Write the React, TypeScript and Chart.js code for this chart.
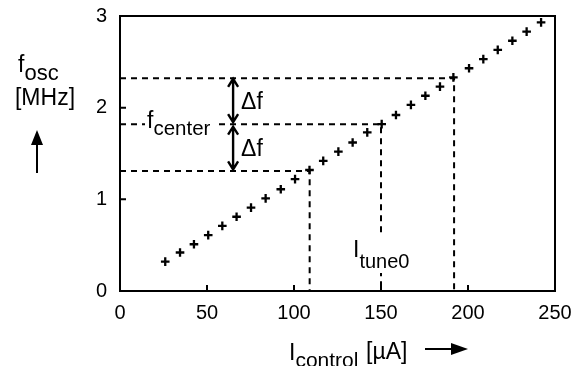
import React, { useEffect, useRef } from "react";
import { Chart, registerables } from "chart.js";

Chart.register(...registerables);

// Measured control current (µA) and oscillation frequency (MHz)
const currentUA = [26, 34.5, 42.5, 50.7, 58.8, 67, 75.3, 83.7, 92.4, 100.6, 108.9, 116.8, 125.5, 133.7, 142.1, 150.4, 158.6, 167.2, 175.5, 183.9, 191.6, 200.6, 208.8, 217.1, 225.5, 233.7, 242];
const freqMHz = [0.32, 0.42, 0.51, 0.61, 0.71, 0.81, 0.91, 1.01, 1.11, 1.22, 1.32, 1.42, 1.52, 1.62, 1.73, 1.82, 1.92, 2.03, 2.13, 2.23, 2.33, 2.43, 2.53, 2.63, 2.73, 2.83, 2.93];

const xTicks = [0, 50, 100, 150, 200, 250];
const yTicks = [0, 1, 2, 3];

// Guide lines: (f_center - Δf), f_center, (f_center + Δf)
const guideCurrent = [109, 150, 192];
const guideFreq = [1.31, 1.82, 2.32];
const arrowCurrent = 65;

const FONT = "'Liberation Sans', Arial, Helvetica, sans-serif";
const MAIN = 23;
const SUB = 20;

function subText(ctx: CanvasRenderingContext2D, main: string, sub: string, x: number, y: number, drop: number, subSize = SUB) {
  ctx.font = `${MAIN}px ${FONT}`;
  ctx.textAlign = "left";
  ctx.textBaseline = "alphabetic";
  ctx.fillText(main, x, y);
  const w = ctx.measureText(main).width;
  ctx.font = `${subSize}px ${FONT}`;
  ctx.fillText(sub, x + w, y + drop);
}

function vArrow(ctx: CanvasRenderingContext2D, x: number, y1: number, y2: number) {
  ctx.beginPath();
  ctx.moveTo(x, y1);
  ctx.lineTo(x, y2);
  ctx.moveTo(x - 5, y1 + 8);
  ctx.lineTo(x, y1);
  ctx.lineTo(x + 5, y1 + 8);
  ctx.moveTo(x - 5, y2 - 8);
  ctx.lineTo(x, y2);
  ctx.lineTo(x + 5, y2 - 8);
  ctx.stroke();
}

const decor = {
  id: "decor",
  afterDatasetsDraw(chart: any) {
    const ctx: CanvasRenderingContext2D = chart.ctx;
    const { left, right, top, bottom } = chart.chartArea;
    const xs = chart.scales.x;
    const ys = chart.scales.y;
    ctx.save();
    ctx.strokeStyle = "#000";
    ctx.fillStyle = "#000";
    ctx.lineWidth = 2;
    ctx.setLineDash([]);
    ctx.strokeRect(left, top, right - left, bottom - top);
    ctx.beginPath();
    xTicks.slice(1, -1).forEach((v) => {
      const p = xs.getPixelForValue(v);
      ctx.moveTo(p, bottom);
      ctx.lineTo(p, bottom - 6);
    });
    yTicks.slice(1, -1).forEach((v) => {
      const p = ys.getPixelForValue(v);
      ctx.moveTo(left, p);
      ctx.lineTo(left + 6, p);
    });
    ctx.stroke();

    const ax = xs.getPixelForValue(arrowCurrent);
    const yLo = ys.getPixelForValue(guideFreq[0]);
    const yC = ys.getPixelForValue(guideFreq[1]);
    const yHi = ys.getPixelForValue(guideFreq[2]);
    ctx.lineWidth = 2.4;
    vArrow(ctx, ax, yHi + 0.5, yC - 2);
    vArrow(ctx, ax, yC + 2.5, yLo - 1.5);

    ctx.font = `${MAIN}px ${FONT}`;
    ctx.textAlign = "left";
    ctx.textBaseline = "alphabetic";
    ctx.fillText("Δf", ax + 8, (yHi + yC) / 2 + 8);
    ctx.fillText("Δf", ax + 8, (yC + yLo) / 2 + 8);

    ctx.fillStyle = "#fff";
    ctx.fillRect(left + 25, yC - 14, 69, 28);
    ctx.fillStyle = "#000";
    subText(ctx, "f", "center", left + 27, yC + 4, 7, 20.5);

    const xc = xs.getPixelForValue(guideCurrent[1]);
    ctx.fillStyle = "#fff";
    ctx.fillRect(xc - 28, 236, 62, 37);
    ctx.fillStyle = "#000";
    subText(ctx, "I", "tune0", xc - 28, 257, 11);

    subText(ctx, "f", "osc", 18, 72, 8, 22);
    ctx.font = `${MAIN}px ${FONT}`;
    ctx.textAlign = "center";
    ctx.fillText("[MHz]", 45, 105);
    ctx.lineWidth = 2;
    ctx.beginPath();
    ctx.moveTo(37, 173);
    ctx.lineTo(37, 140);
    ctx.stroke();
    ctx.beginPath();
    ctx.moveTo(37, 130);
    ctx.lineTo(31, 145);
    ctx.lineTo(43, 145);
    ctx.closePath();
    ctx.fill();

    subText(ctx, "I", "control", 289, 360, 7, 21);
    ctx.font = `${MAIN}px ${FONT}`;
    ctx.textAlign = "left";
    ctx.fillText("[µA]", 366, 359);
    ctx.beginPath();
    ctx.moveTo(425, 349);
    ctx.lineTo(455, 349);
    ctx.stroke();
    ctx.beginPath();
    ctx.moveTo(468, 349);
    ctx.lineTo(451, 343);
    ctx.lineTo(451, 355);
    ctx.closePath();
    ctx.fill();
    ctx.restore();
  },
};

export default function App() {
  const ref = useRef<HTMLCanvasElement | null>(null);
  useEffect(() => {
    if (!ref.current) return;
    const guides = guideCurrent.map((c, i) => ({
      type: "scatter" as const,
      data: [
        { x: 0, y: guideFreq[i] },
        { x: c, y: guideFreq[i] },
        { x: c, y: 0 },
      ],
      showLine: true,
      borderColor: "#000",
      borderWidth: 2,
      borderDash: [6, 5],
      pointRadius: 0,
      fill: false,
    }));
    const chart = new Chart(ref.current, {
      type: "scatter",
      data: {
        datasets: [
          {
            data: currentUA.map((x, i) => ({ x, y: freqMHz[i] })),
            pointStyle: "cross",
            pointRadius: 4.3,
            borderColor: "#000",
            backgroundColor: "#000",
            borderWidth: 2.3,
          },
          ...guides,
        ] as any,
      },
      options: {
        responsive: false,
        animation: false,
        layout: { padding: { left: 0, top: 16, right: 16, bottom: 0 } },
        plugins: { legend: { display: false }, tooltip: { enabled: false } },
        scales: {
          x: {
            type: "linear",
            min: 0,
            max: 250,
            afterFit: (s: any) => {
              s.height = 75;
              s.paddingLeft = 0;
              s.paddingRight = 0;
            },
            afterBuildTicks: (s: any) => {
              s.ticks = xTicks.map((v) => ({ value: v }));
            },
            ticks: { color: "#000", font: { family: FONT, size: 20 }, padding: 10, maxRotation: 0 },
            grid: { display: false, drawTicks: false },
            border: { display: false },
          },
          y: {
            type: "linear",
            min: 0,
            max: 3,
            afterFit: (s: any) => {
              s.width = 120;
              s.paddingTop = 0;
              s.paddingBottom = 0;
            },
            afterBuildTicks: (s: any) => {
              s.ticks = yTicks.map((v) => ({ value: v }));
            },
            ticks: { color: "#000", font: { family: FONT, size: 20 }, padding: 13 },
            grid: { display: false, drawTicks: false },
            border: { display: false },
          },
        },
      },
      plugins: [decor],
    });
    return () => chart.destroy();
  }, []);
  return (
    <div style={{ position: "fixed", left: 0, top: 0, width: 571, height: 366, background: "#fff" }}>
      <canvas ref={ref} width={571} height={366} />
    </div>
  );
}
